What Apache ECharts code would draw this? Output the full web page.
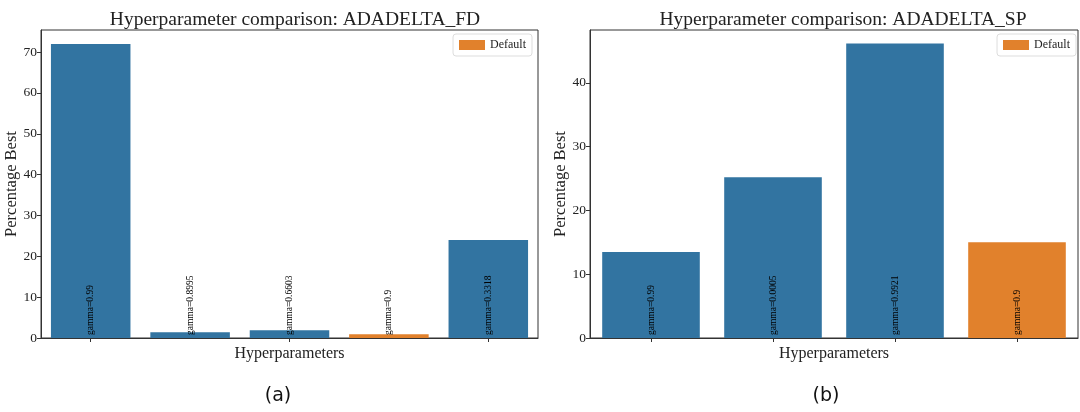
<!DOCTYPE html>
<html><head><meta charset="utf-8">
<script src="https://cdn.jsdelivr.net/npm/echarts@6/dist/echarts.min.js"></script>
<style>html,body{margin:0;padding:0;background:#fff}#c{width:1080px;height:412px}</style>
</head><body><div id="c"></div>
<script>
const titleA = 'Hyperparameter comparison: ADADELTA_FD';
const titleB = 'Hyperparameter comparison: ADADELTA_SP';
const catsA = ['gamma=0.99', 'gamma=0.8995', 'gamma=0.6603', 'gamma=0.9', 'gamma=0.3318'];
const valsA = [72.0, 1.4, 1.9, 0.9, 24.0];
const defaultIdxA = 3;
const catsB = ['gamma=0.99', 'gamma=0.0005', 'gamma=0.9921', 'gamma=0.9'];
const valsB = [13.5, 25.2, 46.2, 15.0];
const defaultIdxB = 3;
const yTicksA = [0, 10, 20, 30, 40, 50, 60, 70];
const yTicksB = [0, 10, 20, 30, 40];

const BLUE = '#3274a1', ORANGE = '#e1812c';
const FONT = 'Liberation Serif';

function seriesFor(cats, vals, defIdx, ax) {
  const lbl = {
    show: true, position: 'insideBottom', rotate: 90, align: 'left', verticalAlign: 'middle',
    distance: 3, color: '#000', fontFamily: FONT, fontSize: 9.5,
    formatter: p => cats[p.dataIndex]
  };
  return [
    { name: 'Best', type: 'bar', stack: 's' + ax, xAxisIndex: ax, yAxisIndex: ax, barWidth: '80%',
      itemStyle: { color: BLUE }, label: lbl,
      data: vals.map((v, i) => i === defIdx ? '-' : v) },
    { name: 'Default', type: 'bar', stack: 's' + ax, xAxisIndex: ax, yAxisIndex: ax, barWidth: '80%',
      itemStyle: { color: ORANGE }, label: lbl,
      data: vals.map((v, i) => i === defIdx ? v : '-') }
  ];
}
function xAxisFor(cats, ax) {
  return { type: 'category', gridIndex: ax, data: cats, name: 'Hyperparameters', nameLocation: 'middle', nameGap: 8,
    nameMoveOverlap: false,
    nameTextStyle: { fontFamily: FONT, fontSize: 16, color: '#222' },
    axisLine: { lineStyle: { color: '#333', width: 1 } },
    axisTick: { show: true, alignWithLabel: true, length: 4, lineStyle: { color: '#333' } },
    axisLabel: { show: false }, splitLine: { show: false } };
}
function yAxisFor(ticks, max, ax) {
  return { type: 'value', gridIndex: ax, min: 0, max: max, interval: 10,
    name: 'Percentage Best', nameLocation: 'middle', nameGap: 21, nameMoveOverlap: false,
    nameTextStyle: { fontFamily: FONT, fontSize: 16.5, color: '#222' },
    axisLine: { show: true, lineStyle: { color: '#333', width: 1 } },
    axisTick: { show: true, length: 4, customValues: ticks, lineStyle: { color: '#333' } },
    axisLabel: { fontFamily: FONT, fontSize: 13.5, color: '#222', margin: 4, customValues: ticks },
    splitLine: { show: false } };
}

const chart = echarts.init(document.getElementById('c'));
chart.setOption({
  animation: false,
  backgroundColor: '#fff',
  title: [
    { text: titleA, left: 290, top: 5, textAlign: 'center', textStyle: { fontFamily: FONT, fontSize: 19.5, fontWeight: 'normal', color: '#222' } },
    { text: titleB, left: 838, top: 5, textAlign: 'center', textStyle: { fontFamily: FONT, fontSize: 19.5, fontWeight: 'normal', color: '#222' } },
    { text: '(a)', left: 273, top: 382, textAlign: 'center', textStyle: { fontFamily: 'DejaVu Sans', fontSize: 19, fontWeight: 'normal', color: '#111' } },
    { text: '(b)', left: 821, top: 382, textAlign: 'center', textStyle: { fontFamily: 'DejaVu Sans', fontSize: 19, fontWeight: 'normal', color: '#111' } }
  ],
  legend: [
    { data: ['Default'], right: 548, top: 34, icon: 'rect', itemWidth: 26, itemHeight: 10, itemGap: 6,
      borderColor: '#ddd', borderWidth: 1, borderRadius: 3, padding: [5, 6, 5, 6],
      textStyle: { fontFamily: FONT, fontSize: 12, color: '#222' } },
    { data: ['Default'], right: 4, top: 34, icon: 'rect', itemWidth: 26, itemHeight: 10, itemGap: 6,
      borderColor: '#ddd', borderWidth: 1, borderRadius: 3, padding: [5, 6, 5, 6],
      textStyle: { fontFamily: FONT, fontSize: 12, color: '#222' } }
  ],
  grid: [
    { left: 41, right: 542, top: 30, bottom: 74, show: true, borderColor: '#333', borderWidth: 1, backgroundColor: 'transparent' },
    { left: 590, right: 2, top: 30, bottom: 74, show: true, borderColor: '#333', borderWidth: 1, backgroundColor: 'transparent' }
  ],
  xAxis: [xAxisFor(catsA, 0), xAxisFor(catsB, 1)],
  yAxis: [yAxisFor(yTicksA, 75.4, 0), yAxisFor(yTicksB, 48.3, 1)],
  series: [...seriesFor(catsA, valsA, defaultIdxA, 0), ...seriesFor(catsB, valsB, defaultIdxB, 1)]
});
</script></body></html>
